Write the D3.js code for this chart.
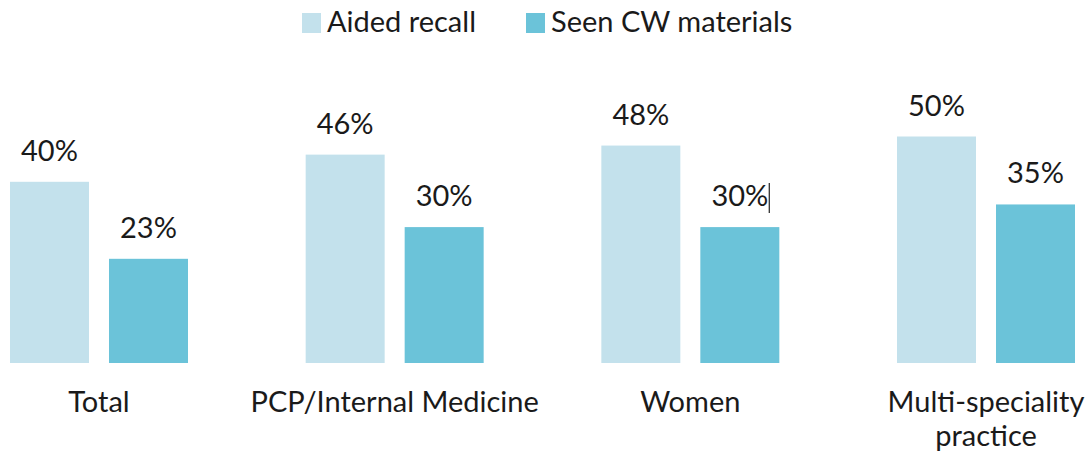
<!DOCTYPE html>
<html>
<head>
<meta charset="utf-8">
<script src="https://cdn.jsdelivr.net/npm/d3@7"></script>
<style>
  body { margin: 0; background: #fff; }
  text { font-family: Lato, "Noto Sans", sans-serif; fill: #1a1a1a; }
</style>
</head>
<body>
<div class="chart"></div>
<script>
const categories = ["Total", "PCP/Internal Medicine", "Women", "Multi-speciality practice"];
const categoryLines = [["Total"], ["PCP/Internal Medicine"], ["Women"], ["Multi-speciality", "practice"]];
const seriesNames = ["Aided recall", "Seen CW materials"];
const aidedRecall = [40, 46, 48, 50];
const seenMaterials = [23, 30, 30, 35];

const colors = ["#c3e1ec", "#6bc3d9"];

let width = 1089;
let height = 453;

let svg = d3.select(".chart")
    .append("svg")
    .attr("width", width)
    .attr("height", height);

// rows of data, one per category
let rows = categories.map(function(c, i){
    return { cat: c, lines: categoryLines[i], values: [aidedRecall[i], seenMaterials[i]] };
});

let x0 = d3.scaleBand()
    .domain(categories)
    .range([10, 1075])
    .paddingInner(0.398)
    .paddingOuter(0);

let x1 = d3.scaleBand()
    .domain(seriesNames)
    .range([0, x0.bandwidth()])
    .paddingInner(0.202);

let y = d3.scaleLinear()
    .domain([0, 50])
    .range([363, 136.5]);

let groups = svg.selectAll(".group")
    .data(rows)
    .enter().append("g")
    .attr("class", "group")
    .attr("transform", function(d){ return "translate(" + x0(d.cat) + ",0)"; });

let bars = groups.selectAll("g.bar")
    .data(function(d){
        return d.values.map(function(v, i){ return { series: seriesNames[i], value: v, idx: i, cat: d.cat }; });
    })
    .enter().append("g")
    .attr("class", "bar");

bars.append("rect")
    .attr("x", function(d){ return x1(d.series); })
    .attr("y", function(d){ return y(d.value); })
    .attr("width", x1.bandwidth())
    .attr("height", function(d){ return y(0) - y(d.value); })
    .attr("fill", function(d){ return colors[d.idx]; });

bars.append("text")
    .attr("class", "value")
    .attr("x", function(d){ return x1(d.series) + x1.bandwidth() / 2; })
    .attr("y", function(d){ return y(d.value) - 21; })
    .attr("text-anchor", "middle")
    .style("font-size", "29px")
    .text(function(d){ return d.value + "%"; });

// text cursor visible next to the Women label in the original
bars.filter(function(d){ return d.cat === "Women" && d.idx === 1; })
    .each(function(d){
        let bb = d3.select(this).select("text.value").node().getBBox();
        d3.select(this).append("line")
            .attr("x1", bb.x + bb.width + 1)
            .attr("x2", bb.x + bb.width + 1)
            .attr("y1", y(d.value) - 44)
            .attr("y2", y(d.value) - 14)
            .attr("stroke", "#222")
            .attr("stroke-width", 1.2);
    });

// category labels
groups.append("text")
    .attr("text-anchor", "middle")
    .style("font-size", "29px")
    .each(function(d){
        d3.select(this).selectAll("tspan")
            .data(d.lines)
            .enter().append("tspan")
            .attr("x", x0.bandwidth() / 2)
            .attr("y", function(l, i){ return 412 + i * 34; })
            .text(String);
    });

// legend
let legendX = [302, 526];
let legend = svg.selectAll(".legend")
    .data(seriesNames)
    .enter().append("g")
    .attr("class", "legend")
    .attr("transform", function(d, i){ return "translate(" + legendX[i] + ",13)"; });

legend.append("rect")
    .attr("width", 19)
    .attr("height", 20)
    .attr("fill", function(d, i){ return colors[i]; });

legend.append("text")
    .attr("x", 25)
    .attr("y", 19)
    .style("font-size", "29px")
    .text(String);
</script>
</body>
</html>
